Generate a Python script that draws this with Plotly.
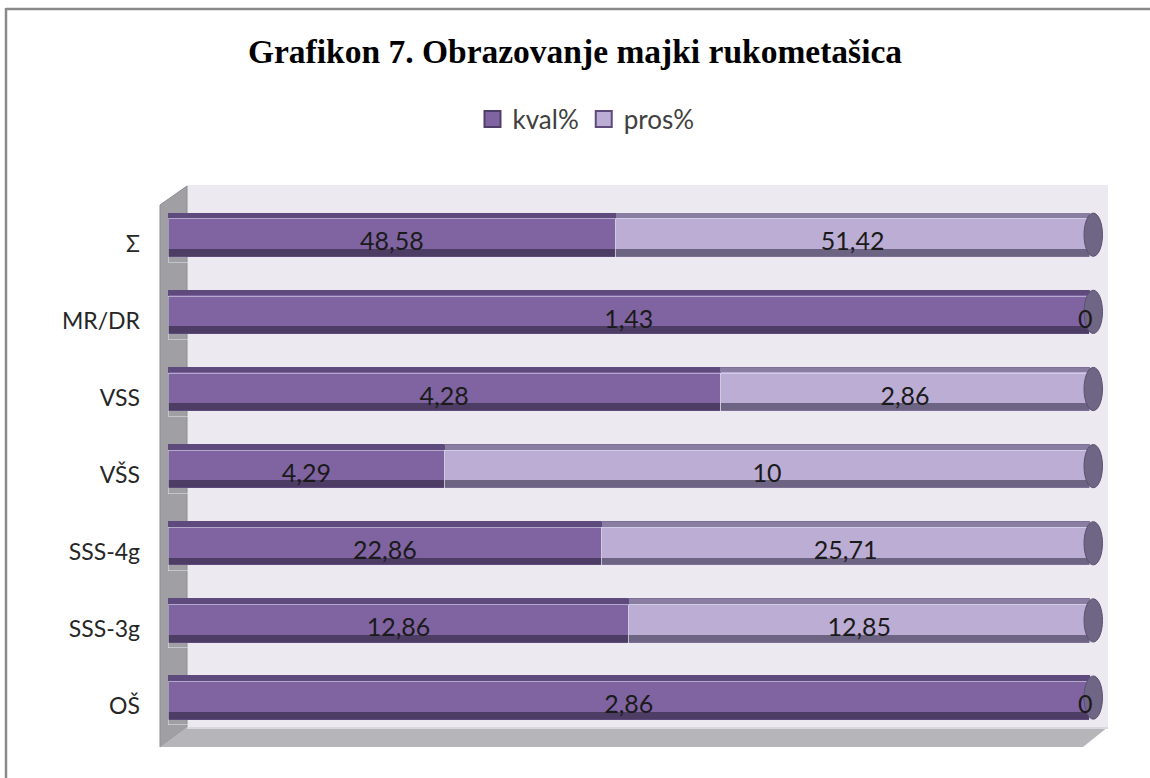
import plotly.graph_objects as go

# ---- data (bottom to top) ----
categories = ["OŠ", "SSS-3g", "SSS-4g", "VŠS", "VSS", "MR/DR", "Σ"]
kval = [2.86, 12.86, 22.86, 4.29, 4.28, 1.43, 48.58]
pros = [0, 12.85, 25.71, 10, 2.86, 0, 51.42]
series_names = ["kval%", "pros%"]

W, H = 1150, 778
L, R, T, B = 168, 42, 205, 33
PW, PH = W - L - R, H - T - B
XMAX = 102


def fmt(v):
    return ("%g" % v).replace(".", ",")


def px(x):
    return (x - L) / PW


def py(y):
    return (H - B - y) / PH


def path(points):
    return "M " + " L ".join("%f %f" % (px(a), py(b)) for a, b in points) + " Z"


C_K, C_P = "#8064A2", "#BCADD4"
C_K_DARK, C_P_DARK = "#4D3C64", "#6D6383"
C_K_EDGE, C_P_EDGE = "#5E4A7C", "#8A7DA2"
BAR_W = 0.56
SHIFT = 0.115          # bars sit a little above the category centre (3-D look)
OFF = -BAR_W / 2 + SHIFT
TEXT_OFF = -BAR_W / 2 + 0.04

fig = go.Figure()

# main bodies
fig.add_trace(go.Bar(y=categories, x=kval, name=series_names[0], orientation="h",
                     marker=dict(color=C_K, line=dict(color="#5E4A7C", width=1)),
                     width=BAR_W, offset=OFF, yaxis="y", showlegend=False, hoverinfo="skip"))
fig.add_trace(go.Bar(y=categories, x=pros, name=series_names[1], orientation="h",
                     marker=dict(color=C_P, line=dict(color="#7D6F96", width=1)),
                     width=BAR_W, offset=OFF, yaxis="y", showlegend=False, hoverinfo="skip"))

# bottom shading band and top edge band (cylinder look)
for vals, dark in [(kval, C_K_DARK), (pros, C_P_DARK)]:
    fig.add_trace(go.Bar(y=categories, x=vals, orientation="h", showlegend=False,
                         marker=dict(color=dark, line=dict(width=0)),
                         width=0.09, offset=OFF + 0.005, yaxis="y2", hoverinfo="skip"))
for vals, edge in [(kval, C_K_EDGE), (pros, C_P_EDGE)]:
    fig.add_trace(go.Bar(y=categories, x=vals, orientation="h", showlegend=False,
                         marker=dict(color=edge, line=dict(width=0)),
                         width=0.06, offset=OFF + BAR_W - 0.065, yaxis="y3", hoverinfo="skip"))

# text layer
TF = dict(family="Lato", size=25, color="#1a1a1a")
fig.add_trace(go.Bar(y=categories, x=kval, orientation="h", showlegend=False,
                     marker=dict(color="rgba(0,0,0,0)"), width=BAR_W, offset=TEXT_OFF,
                     yaxis="y4", text=[fmt(v) for v in kval], textposition="inside",
                     insidetextanchor="middle", textangle=0, textfont=TF, hoverinfo="skip"))
fig.add_trace(go.Bar(y=categories, x=pros, orientation="h", showlegend=False,
                     marker=dict(color="rgba(0,0,0,0)"), width=BAR_W, offset=TEXT_OFF,
                     yaxis="y4", text=[fmt(v) if v else "" for v in pros], textposition="inside",
                     insidetextanchor="middle", textangle=0, textfont=TF, hoverinfo="skip"))

# legend entries
for name, col, lc in [(series_names[0], C_K, "#4F3E69"), (series_names[1], C_P, "#5E4A7C")]:
    fig.add_trace(go.Scatter(x=[None], y=[None], mode="markers", name=name,
                             marker=dict(symbol="square", size=16, color=col,
                                         line=dict(color=lc, width=2)),
                             showlegend=True, hoverinfo="skip"))

shapes = [
    # back wall
    dict(type="path", xref="paper", yref="paper", layer="below",
         path=path([(187, 185), (1108, 185), (1108, 727), (187, 727)]),
         fillcolor="#ECE9F1", line=dict(width=0)),
    # left wall
    dict(type="path", xref="paper", yref="paper", layer="below",
         path=path([(160, 205), (187, 186), (187, 727), (160, 747)]),
         fillcolor="#A09FA4", line=dict(color="#8E8D92", width=1)),
    # floor
    dict(type="path", xref="paper", yref="paper", layer="below",
         path=path([(160, 747), (187, 727), (1108, 727), (1083, 747)]),
         fillcolor="#B6B5BA", line=dict(width=0)),
    dict(type="line", xref="paper", yref="paper", layer="below",
         x0=px(187), x1=px(1108), y0=py(728), y1=py(728),
         line=dict(color="#DAD8DF", width=2)),
    # outer border (left and top edges only are visible)
    dict(type="line", xref="paper", yref="paper", layer="below",
         x0=px(6), x1=px(1150), y0=py(9), y1=py(9),
         line=dict(color="#8A8A8A", width=2.5)),
    dict(type="line", xref="paper", yref="paper", layer="below",
         x0=px(6), x1=px(6), y0=py(8), y1=py(778),
         line=dict(color="#8A8A8A", width=2.5)),
]

# end caps of cylinders
for i in range(len(categories)):
    shapes.append(dict(type="circle", xref="x", yref="y4", layer="above",
                       x0=99.4, x1=101.4, y0=i + OFF, y1=i + OFF + BAR_W,
                       fillcolor="#6F6584", line=dict(color="#5A4F70", width=1)))

annotations = []
for i, v in enumerate(pros):
    if v == 0:
        annotations.append(dict(x=100, y=i + TEXT_OFF + BAR_W / 2, xref="x", yref="y4",
                                text=fmt(v), showarrow=False, xanchor="right",
                                xshift=5, font=TF))

yax = dict(type="category", range=[-0.5, 6.5], showgrid=False, zeroline=False,
           showline=False, ticks="")
fig.update_layout(
    width=W, height=H,
    margin=dict(l=L, r=R, t=T, b=B),
    paper_bgcolor="white", plot_bgcolor="rgba(0,0,0,0)",
    barmode="stack", barnorm="percent",
    title=dict(text="<b>Grafikon 7. Obrazovanje majki rukometašica</b>",
               x=0.5, xanchor="center", y=1 - 51 / H, yanchor="middle",
               font=dict(family="Liberation Serif", size=33.5, color="#000000")),
    legend=dict(orientation="h", x=px(586), xanchor="center", y=py(119), yanchor="middle",
                font=dict(family="Lato", size=26, color="#404040"),
                traceorder="normal", itemwidth=30, bgcolor="rgba(0,0,0,0)"),
    xaxis=dict(range=[0, XMAX], visible=False, showgrid=False, zeroline=False),
    yaxis=dict(**yax, tickfont=dict(family="Lato", size=23, color="#262626"),
               ticklabelstandoff=27),
    yaxis2=dict(**yax, overlaying="y", visible=False),
    yaxis3=dict(**yax, overlaying="y", visible=False),
    yaxis4=dict(**yax, overlaying="y", visible=False),
    shapes=shapes,
    annotations=annotations,
    showlegend=True,
)

fig.write_html(
    "out.html",
    post_script=("document.body.style.margin='0';"
                 "document.body.style.overflow='hidden';"
                 "document.documentElement.style.overflow='hidden';"),
    config={"displayModeBar": False},
)
